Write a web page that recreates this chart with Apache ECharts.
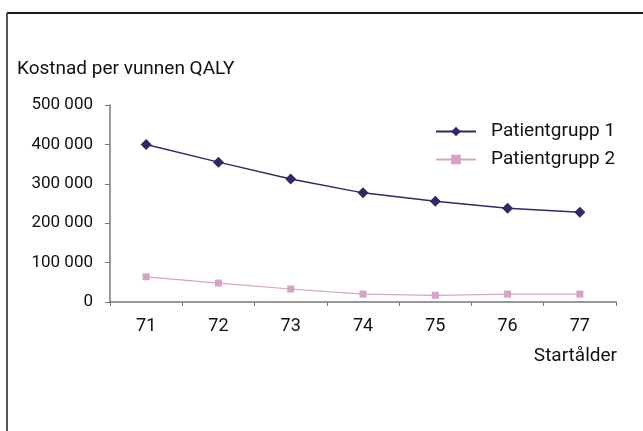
<!DOCTYPE html>
<html><head><meta charset="utf-8">
<script src="https://cdn.jsdelivr.net/npm/echarts@6/dist/echarts.min.js"></script>
<style>html,body{margin:0;padding:0;background:#fff}#c{width:643px;height:431px}</style>
</head><body><div id="c"></div>
<script>
const categories = ['71','72','73','74','75','76','77'];
const group1 = [400000, 355000, 312000, 277000, 256000, 238000, 228000];
const group2 = [64000, 48000, 33000, 20000, 17000, 20000, 20000];
const seriesNames = ['Patientgrupp 1', 'Patientgrupp 2'];
const yTitle = 'Kostnad per vunnen QALY';
const xTitle = 'Startålder';

const font = 'Roboto, sans-serif';
const chart = echarts.init(document.getElementById('c'), null, {renderer: 'canvas'});
chart.setOption({
  animation: false,
  backgroundColor: '#fff',
  grid: {left: 110, top: 105, width: 506, height: 197, containLabel: false},
  graphic: [
    {type: 'line', shape: {x1: 7, y1: 13, x2: 643, y2: 13}, style: {stroke: '#1a1a1a', lineWidth: 2}},
    {type: 'line', shape: {x1: 7, y1: 13, x2: 7, y2: 431}, style: {stroke: '#555', lineWidth: 2}},
    {type: 'text', left: 17, top: 60, style: {text: yTitle, font: '19px ' + font, fill: '#111'}},
    {type: 'text', right: 26, top: 347, style: {text: xTitle, font: '19px ' + font, fill: '#111'}}
  ],
  legend: {
    orient: 'vertical', left: 430, top: 117, itemGap: 9, itemWidth: 40, itemHeight: 12,
    textStyle: {fontFamily: font, fontSize: 19, color: '#111', padding: [0, 0, 0, 10]},
    data: seriesNames
  },
  xAxis: {
    type: 'category', data: categories, boundaryGap: true,
    axisLine: {lineStyle: {color: '#777', width: 1.5}},
    axisTick: {show: true, length: 4, lineStyle: {color: '#777'}},
    axisLabel: {fontFamily: font, fontSize: 18, color: '#111', margin: 15}
  },
  yAxis: {
    type: 'value', min: 0, max: 500000, interval: 100000,
    axisLine: {show: true, lineStyle: {color: '#777', width: 1.5}},
    axisTick: {show: true, length: 5, lineStyle: {color: '#777'}},
    splitLine: {show: false},
    axisLabel: {fontFamily: font, fontSize: 17, color: '#111', margin: 17,
      formatter: v => v === 0 ? '0' : String(v).replace(/\B(?=(\d{3})+(?!\d))/g, ' ')}
  },
  series: [
    {name: seriesNames[0], type: 'line', data: group1, symbol: 'diamond', symbolSize: 11,
      lineStyle: {color: '#2d2a6a', width: 1.5}, itemStyle: {color: '#2d2a6a'}},
    {name: seriesNames[1], type: 'line', data: group2, symbol: 'rect', symbolSize: 7,
      lineStyle: {color: '#d7a3c4', width: 1.2}, itemStyle: {color: '#d7a3c4'}}
  ]
});
</script></body></html>
